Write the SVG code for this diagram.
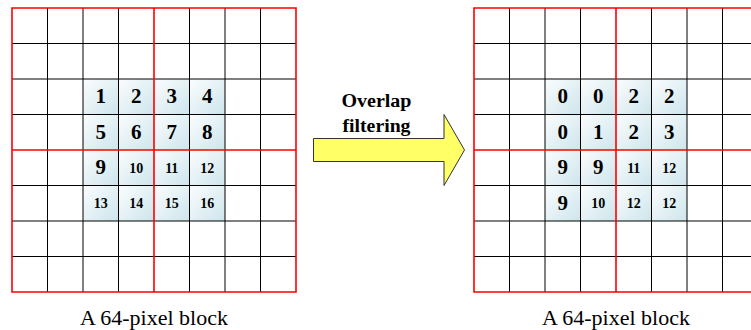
<svg xmlns="http://www.w3.org/2000/svg" width="751" height="330" viewBox="0 0 751 330">
  <defs>
    <linearGradient id="cellFill" x1="0" y1="0" x2="1" y2="1">
      <stop offset="0" stop-color="#fbfdfe"/>
      <stop offset="1" stop-color="#cde5ec"/>
    </linearGradient>
    <!-- one shaded pixel cell, 35.5 px square -->
    <rect id="px" width="35.5" height="35.5" fill="url(#cellFill)"/>
  </defs>
  <style>
    text { font-family: 'Liberation Serif', 'Times New Roman', 'DejaVu Serif', serif; }
    .grid { fill: none; stroke: #000; stroke-width: 1; }
    .split { fill: none; stroke: #ff0000; stroke-width: 1.6; }
    .big { font-weight: bold; font-size: 21px; text-anchor: middle; fill: #000; }
    .small { font-weight: bold; font-size: 14px; text-anchor: middle; fill: #000; }
    .caption { font-size: 22px; text-anchor: middle; fill: #000; }
    .label { font-weight: bold; font-size: 18px; text-anchor: middle; fill: #000; }
    .arrow { fill: #ffff66; stroke: #333; stroke-width: 1; }
  </style>

  <!-- Source block: 8x8 pixels, 4x4 numbered pixels in the middle -->
  <g id="block-source">
    <g>
      <use href="#px" x="83" y="79"/><use href="#px" x="118.5" y="79"/><use href="#px" x="154" y="79"/><use href="#px" x="189.5" y="79"/>
      <use href="#px" x="83" y="114.5"/><use href="#px" x="118.5" y="114.5"/><use href="#px" x="154" y="114.5"/><use href="#px" x="189.5" y="114.5"/>
      <use href="#px" x="83" y="150"/><use href="#px" x="118.5" y="150"/><use href="#px" x="154" y="150"/><use href="#px" x="189.5" y="150"/>
      <use href="#px" x="83" y="185.5"/><use href="#px" x="118.5" y="185.5"/><use href="#px" x="154" y="185.5"/><use href="#px" x="189.5" y="185.5"/>
    </g>
    <path class="grid" d="M47.5 8V292M83 8V292M118.5 8V292M189.5 8V292M225 8V292M260.5 8V292
                          M12 43.5H296M12 79H296M12 114.5H296M12 185.5H296M12 221H296M12 256.5H296"/>
    <path class="split" d="M12 8H296V292H12Z M154 8V292 M12 150H296"/>
    <text class="big" x="100.75" y="103.3">1</text>
    <text class="big" x="136.25" y="103.3">2</text>
    <text class="big" x="171.75" y="103.3">3</text>
    <text class="big" x="207.25" y="103.3">4</text>
    <text class="big" x="100.75" y="138.8">5</text>
    <text class="big" x="136.25" y="138.8">6</text>
    <text class="big" x="171.75" y="138.8">7</text>
    <text class="big" x="207.25" y="138.8">8</text>
    <text class="big" x="100.75" y="174.3">9</text>
    <text class="small" x="136.25" y="172.5">10</text>
    <text class="small" x="171.75" y="172.5">11</text>
    <text class="small" x="207.25" y="172.5">12</text>
    <text class="small" x="100.75" y="208">13</text>
    <text class="small" x="136.25" y="208">14</text>
    <text class="small" x="171.75" y="208">15</text>
    <text class="small" x="207.25" y="208">16</text>
    <text class="caption" x="154" y="325">A 64-pixel block</text>
  </g>

  <!-- Filtered block -->
  <g id="block-filtered">
    <g>
      <use href="#px" x="545" y="79"/><use href="#px" x="580.5" y="79"/><use href="#px" x="616" y="79"/><use href="#px" x="651.5" y="79"/>
      <use href="#px" x="545" y="114.5"/><use href="#px" x="580.5" y="114.5"/><use href="#px" x="616" y="114.5"/><use href="#px" x="651.5" y="114.5"/>
      <use href="#px" x="545" y="150"/><use href="#px" x="580.5" y="150"/><use href="#px" x="616" y="150"/><use href="#px" x="651.5" y="150"/>
      <use href="#px" x="545" y="185.5"/><use href="#px" x="580.5" y="185.5"/><use href="#px" x="616" y="185.5"/><use href="#px" x="651.5" y="185.5"/>
    </g>
    <path class="grid" d="M509.5 8V292M545 8V292M580.5 8V292M651.5 8V292M687 8V292M722.5 8V292
                          M474 43.5H760M474 79H760M474 114.5H760M474 185.5H760M474 221H760M474 256.5H760"/>
    <path class="split" d="M760 8H474V292H760 M616 8V292 M474 150H760"/>
    <text class="big" x="562.75" y="103.3">0</text>
    <text class="big" x="598.25" y="103.3">0</text>
    <text class="big" x="633.75" y="103.3">2</text>
    <text class="big" x="669.25" y="103.3">2</text>
    <text class="big" x="562.75" y="138.8">0</text>
    <text class="big" x="598.25" y="138.8">1</text>
    <text class="big" x="633.75" y="138.8">2</text>
    <text class="big" x="669.25" y="138.8">3</text>
    <text class="big" x="562.75" y="174.3">9</text>
    <text class="big" x="598.25" y="174.3">9</text>
    <text class="small" x="633.75" y="172.5">11</text>
    <text class="small" x="669.25" y="172.5">12</text>
    <text class="big" x="562.75" y="209.8">9</text>
    <text class="small" x="598.25" y="208">10</text>
    <text class="small" x="633.75" y="208">12</text>
    <text class="small" x="669.25" y="208">12</text>
    <text class="caption" x="616" y="325">A 64-pixel block</text>
  </g>

  <!-- Block arrow between the two blocks -->
  <g id="connectors">
    <path class="arrow" d="M313.5 138.5H444V114.5L464.5 150L444 185.5V161.5H313.5Z"/>
    <text class="label" x="376.5" y="107.3" textLength="70" lengthAdjust="spacingAndGlyphs">Overlap</text>
    <text class="label" x="376.5" y="131.5" textLength="68" lengthAdjust="spacingAndGlyphs">filtering</text>
  </g>
</svg>
